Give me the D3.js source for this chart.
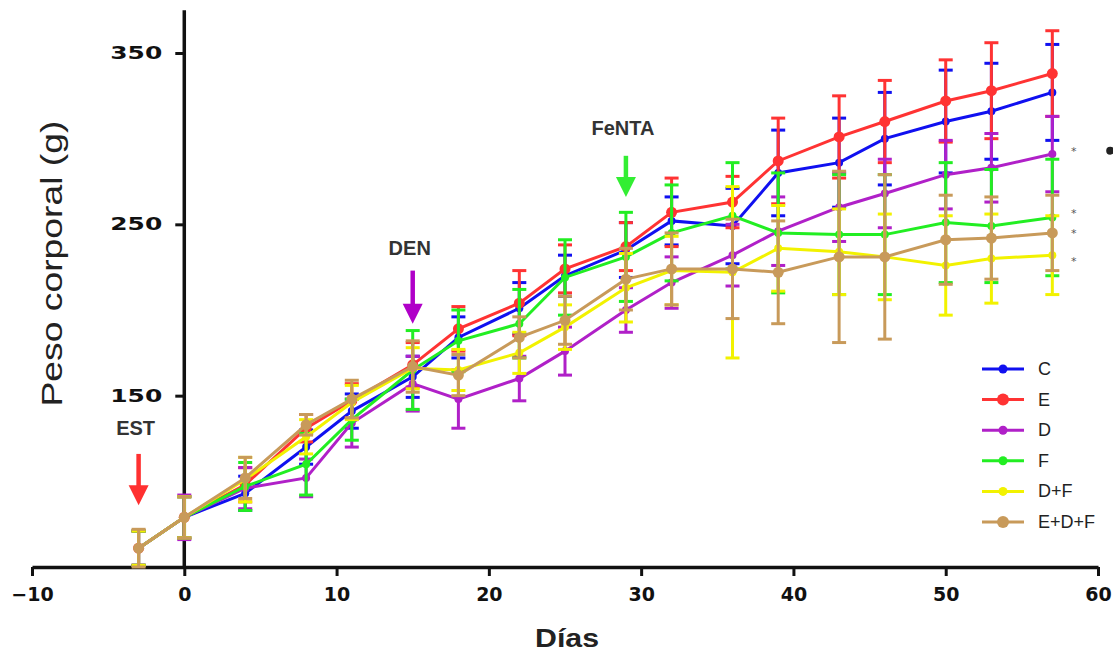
<!DOCTYPE html>
<html><head><meta charset="utf-8">
<script src="https://cdn.jsdelivr.net/npm/d3@7/dist/d3.min.js"></script>
<style>body{margin:0;background:#fff}svg{display:block}</style>
</head><body>
<svg id="chart" width="1113" height="658"></svg>
<script>
const days = [-3, 0, 4, 8, 11, 15, 18, 22, 25, 29, 32, 36, 39, 43, 46, 50, 53, 57];
const seriesNames = ["C", "E", "D", "F", "D+F", "E+D+F"];
const valC   = [61, 79, 93, 120, 141, 161, 184, 201, 220, 235, 252, 249, 280, 286, 300, 310, 316, 327];
const errC   = [10, 12, 10, 10, 10, 12, 12, 15, 12, 16, 14, 22, 25, 26, 27, 30, 28, 28];
const valE   = [61, 79, 98, 131, 147, 168, 189, 204, 224, 237, 257, 263, 287, 301, 310, 322, 328, 338];
const errE   = [10, 12, 10, 8, 10, 13, 13, 19, 14, 14, 20, 15, 25, 24, 24, 24, 28, 25];
const valD   = [61, 79, 96, 102, 134, 157, 148, 160, 176, 200, 216, 232, 246, 260, 268, 279, 283, 291];
const errD   = [10, 13, 12, 11, 14, 16, 17, 13, 14, 13, 15, 18, 20, 20, 20, 20, 20, 22];
const valF   = [61, 79, 97, 110, 136, 165, 182, 192, 219, 231, 245, 255, 245, 244, 244, 251, 249, 254];
const errF   = [10, 12, 14, 18, 12, 23, 18, 20, 22, 26, 28, 31, 35, 35, 35, 35, 33, 34];
const valDF  = [61, 79, 101, 126, 146, 166, 165, 175, 190, 213, 223, 222, 236, 234, 231, 226, 230, 232];
const errDF  = [10, 12, 13, 10, 10, 12, 12, 12, 13, 20, 20, 50, 25, 25, 25, 29, 26, 23];
const valEDF = [61, 79, 102, 133, 148, 167, 162, 184, 194, 218, 224, 224, 222, 231, 231, 241, 242, 245];
const errEDF = [11, 12, 12, 6, 11, 15, 12, 12, 14, 18, 21, 29, 30, 50, 48, 26, 24, 22];
const xTicks = [-10, 0, 10, 20, 30, 40, 50, 60];
const yTicks = [150, 250, 350];
const annotLabels = ["EST", "DEN", "FeNTA"];
const annotDays = [-3, 15, 29];
const annotArrowTop = [116, 223, 290];
const annotArrowTip = [86, 192, 266];
const annotTextVal = [127, 232, 302];
const starVals = [294, 258, 246, 230];

const seriesVals = [valC, valE, valD, valF, valDF, valEDF];
const seriesErrs = [errC, errE, errD, errF, errDF, errEDF];
const colors = ["#1010f0", "#ff3333", "#b020c8", "#22ee22", "#f2f200", "#c89a5a"];
const annotColors = ["#ff3030", "#b000c8", "#33ee33"];
const radii = [4, 5.5, 4, 4, 4, 5.5];

const svg = d3.select("#chart");
const x = d3.scaleLinear().domain([-10, 60]).range([32, 1098]);
const y = d3.scaleLinear().domain([50, 350]).range([567, 53]);

const data = seriesNames.map((name, i) => ({
  name, color: colors[i], r: radii[i],
  pts: days.map((d, j) => ({day: d, v: seriesVals[i][j], e: seriesErrs[i][j]}))
}));

// axes
const xAxis = svg.append("g").attr("transform", `translate(0,${y(50)})`)
  .call(d3.axisBottom(x).tickValues(xTicks).tickSize(9).tickSizeOuter(0).tickFormat(d3.format("d")));
xAxis.select(".domain").attr("stroke", "#111").attr("stroke-width", 3.5);
xAxis.selectAll(".tick line").attr("stroke", "#111").attr("stroke-width", 3);
xAxis.selectAll(".tick text").attr("dy", "1.15em")
  .style("font-family", "DejaVu Sans").style("font-weight", "bold").style("font-size", "19px").attr("fill", "#111");

const yAxis = svg.append("g").attr("transform", `translate(${x(0)},0)`)
  .call(d3.axisLeft(y).tickValues(yTicks).tickSize(9).tickSizeOuter(0));
yAxis.select(".domain").attr("d", `M0,${y(50)}V${y(375)}`).attr("stroke", "#111").attr("stroke-width", 3.5);
yAxis.selectAll(".tick line").attr("stroke", "#111").attr("stroke-width", 3);
yAxis.selectAll(".tick text").attr("x", -22)
  .style("font-family", "DejaVu Sans").style("font-weight", "bold").style("font-size", "17px").attr("fill", "#111")
  .attr("textLength", 52).attr("lengthAdjust", "spacingAndGlyphs");

// titles
svg.append("text").attr("transform", `translate(62,${(y(50)+y(375))/2 - 25}) rotate(-90)`)
  .attr("text-anchor", "middle").style("font-family", "Liberation Sans").style("font-size", "29px")
  .attr("fill", "#222").attr("textLength", 286).attr("lengthAdjust", "spacingAndGlyphs").text("Peso corporal (g)");
svg.append("text").attr("x", 567).attr("y", 647).attr("text-anchor", "middle")
  .style("font-family", "Liberation Sans").style("font-weight", "bold").style("font-size", "26px")
  .attr("fill", "#222").attr("textLength", 64).attr("lengthAdjust", "spacingAndGlyphs").text("Días");

// series
const line = d3.line().x(d => x(d.day)).y(d => y(d.v));
data.forEach(s => {
  const g = svg.append("g");
  const eb = g.selectAll(".eb").data(s.pts).enter().append("g");
  eb.append("line").attr("x1", d => x(d.day)).attr("x2", d => x(d.day))
    .attr("y1", d => y(d.v - d.e)).attr("y2", d => y(d.v + d.e))
    .attr("stroke", s.color).attr("stroke-width", 3);
  [1, -1].forEach(sg => {
    eb.append("line").attr("x1", d => x(d.day) - 7).attr("x2", d => x(d.day) + 7)
      .attr("y1", d => y(d.v + sg * d.e)).attr("y2", d => y(d.v + sg * d.e))
      .attr("stroke", s.color).attr("stroke-width", 3);
  });
  g.append("path").datum(s.pts).attr("d", line).attr("fill", "none")
    .attr("stroke", s.color).attr("stroke-width", 3);
  g.selectAll("circle").data(s.pts).enter().append("circle")
    .attr("cx", d => x(d.day)).attr("cy", d => y(d.v)).attr("r", s.r).attr("fill", s.color);
});

// annotations
annotLabels.forEach((lab, i) => {
  const ax = x(annotDays[i]);
  svg.append("text").attr("x", ax - 3).attr("y", y(annotTextVal[i])).attr("text-anchor", "middle")
    .style("font-family", "Liberation Sans").style("font-weight", "bold").style("font-size", "20px")
    .attr("fill", "#333").text(lab);
  const yt = y(annotArrowTop[i]), yp = y(annotArrowTip[i]);
  svg.append("line").attr("x1", ax).attr("x2", ax).attr("y1", yt).attr("y2", yp - 16)
    .attr("stroke", annotColors[i]).attr("stroke-width", 4.5);
  svg.append("path").attr("d", `M${ax - 10},${yp - 20}L${ax + 10},${yp - 20}L${ax},${yp}Z`).attr("fill", annotColors[i]);
});

// significance marks
svg.selectAll(".star").data(starVals).enter().append("text")
  .attr("x", x(58.4)).attr("y", d => y(d) + 6).attr("text-anchor", "middle")
  .style("font-family", "DejaVu Sans").style("font-size", "11px").attr("fill", "#555").text("*");
svg.append("circle").attr("cx", x(60.8)).attr("cy", y(293)).attr("r", 4).attr("fill", "#222");

// legend
const lg = svg.append("g").attr("transform", "translate(982,369)");
data.forEach((s, i) => {
  const row = lg.append("g").attr("transform", `translate(0,${i * 30.6})`);
  row.append("line").attr("x1", 0).attr("x2", 42).attr("stroke", s.color).attr("stroke-width", 3);
  row.append("circle").attr("cx", 21).attr("r", s.r + 0.5).attr("fill", s.color);
  row.append("text").attr("x", 56).attr("y", 6).style("font-family", "Liberation Sans").style("font-size", "18px")
    .attr("fill", "#222").text(s.name);
});
</script>
</body></html>
